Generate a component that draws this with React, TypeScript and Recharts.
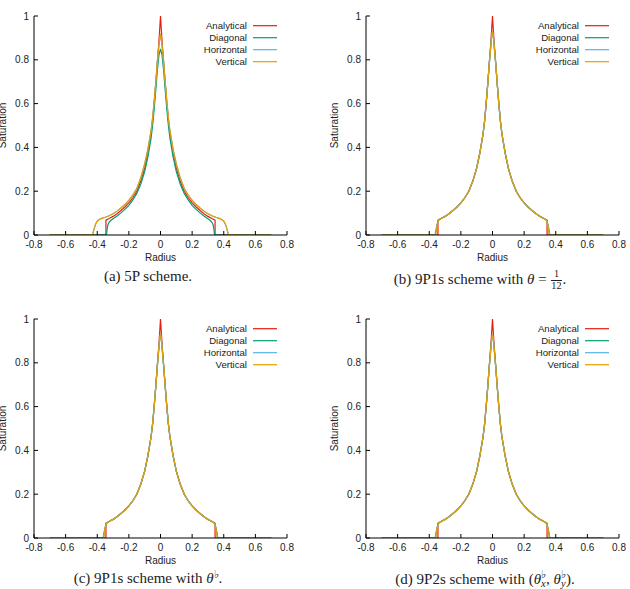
import React from 'react';
import { LineChart, Line, XAxis, YAxis } from 'recharts';

// ---- axes ----
const X_TICKS = [-0.8, -0.6, -0.4, -0.2, 0, 0.2, 0.4, 0.6, 0.8];
const Y_TICKS = [0, 0.2, 0.4, 0.6, 0.8, 1];
const X_DOMAIN: [number, number] = [-0.8, 0.8];
const Y_DOMAIN: [number, number] = [0, 1];

// ---- series ----
const SERIES_NAMES = ['Analytical', 'Diagonal', 'Horizontal', 'Vertical'];
const SERIES_COLORS = ['#e51e10', '#009e73', '#56b4e9', '#e69f00'];
const TAIL_RADIUS = 0.7;

// Half profiles (radius >= 0); the saturation field is radially symmetric.
const ANALYTICAL_R = [0, 0.005, 0.01, 0.02, 0.03, 0.04, 0.05, 0.06, 0.08, 0.1, 0.125, 0.15, 0.175, 0.2, 0.225, 0.25, 0.275, 0.3, 0.325, 0.345, 0.345];
const ANALYTICAL_S = [1, 0.94, 0.885, 0.79, 0.69, 0.6, 0.52, 0.46, 0.375, 0.305, 0.245, 0.2, 0.17, 0.147, 0.128, 0.112, 0.097, 0.085, 0.075, 0.068, 0];

// 5P scheme: diagonal direction lags, axis directions run ahead
const P5_DIAG_R = [0, 0.01, 0.02, 0.03, 0.04, 0.05, 0.06, 0.08, 0.1, 0.125, 0.15, 0.175, 0.2, 0.225, 0.25, 0.275, 0.3, 0.315, 0.325, 0.332, 0.337, 0.342];
const P5_DIAG_S = [0.85, 0.82, 0.75, 0.66, 0.575, 0.5, 0.44, 0.355, 0.29, 0.232, 0.19, 0.16, 0.135, 0.117, 0.101, 0.087, 0.074, 0.066, 0.058, 0.048, 0.03, 0];
const P5_AXIS_R = [0, 0.01, 0.02, 0.03, 0.04, 0.05, 0.06, 0.08, 0.1, 0.125, 0.15, 0.175, 0.2, 0.225, 0.25, 0.275, 0.3, 0.325, 0.35, 0.375, 0.39, 0.4, 0.41, 0.42, 0.43];
const P5_AXIS_S = [0.92, 0.865, 0.785, 0.695, 0.61, 0.535, 0.475, 0.39, 0.325, 0.26, 0.212, 0.182, 0.158, 0.139, 0.123, 0.109, 0.097, 0.088, 0.081, 0.075, 0.07, 0.063, 0.05, 0.028, 0];

// 9-point schemes: all directions nearly coincide
const P9_R = [0, 0.005, 0.01, 0.02, 0.03, 0.04, 0.05, 0.06, 0.08, 0.1, 0.125, 0.15, 0.175, 0.2, 0.225, 0.25, 0.275, 0.3, 0.325, 0.34, 0.35, 0.355, 0.36];
const P9_S = [0.93, 0.91, 0.87, 0.785, 0.69, 0.6, 0.52, 0.46, 0.375, 0.305, 0.245, 0.2, 0.17, 0.147, 0.128, 0.112, 0.097, 0.085, 0.075, 0.068, 0.045, 0.022, 0];
const P9_DIAG_R = [0, 0.005, 0.01, 0.02, 0.03, 0.04, 0.05, 0.06, 0.08, 0.1, 0.125, 0.15, 0.175, 0.2, 0.225, 0.25, 0.275, 0.3, 0.325, 0.34, 0.35, 0.357, 0.363];
const P9_DIAG_S = [0.93, 0.91, 0.87, 0.785, 0.69, 0.6, 0.52, 0.46, 0.375, 0.305, 0.245, 0.2, 0.17, 0.147, 0.128, 0.112, 0.097, 0.085, 0.075, 0.068, 0.05, 0.025, 0];

type Pt = { r: number; s: number };

function profile(rs: number[], ss: number[]): Pt[] {
  const right: Pt[] = rs.map((r, i) => ({ r, s: ss[i] }));
  const left: Pt[] = right.filter((p) => p.r > 0).map((p) => ({ r: -p.r, s: p.s })).reverse();
  return [{ r: -TAIL_RADIUS, s: 0 }, ...left, ...right, { r: TAIL_RADIUS, s: 0 }];
}

const analytical = profile(ANALYTICAL_R, ANALYTICAL_S);

type Panel = {
  left: number;
  top: number;
  captionX: number;
  captionY: number;
  series: Pt[][];
  caption: React.ReactNode;
};

const FONT = '"Liberation Sans", Arial, Helvetica, sans-serif';
const SERIF = '"Liberation Serif", "Times New Roman", serif';
const TEXT = '#222';
const TICK_LEN = 4;

const CHART_W = 300;
const CHART_H = 290;
const Y_AXIS_W = 40;
const MARGIN = { top: 16, right: 7, bottom: 25, left: 0 };
const PLOT_RIGHT = CHART_W - MARGIN.right;

function Frac({ num, den }: { num: string; den: string }) {
  return (
    <span style={{ display: 'inline-block', verticalAlign: 'middle', textAlign: 'center', fontSize: '0.68em', lineHeight: 1.05, margin: '0 1px' }}>
      <span style={{ display: 'block', borderBottom: '0.8px solid #222', padding: '0 1px' }}>{num}</span>
      <span style={{ display: 'block' }}>{den}</span>
    </span>
  );
}

function Theta({ sub }: { sub?: string }) {
  return (
    <>
      <i>θ</i>
      <span
        style={{
          display: 'inline-block',
          verticalAlign: sub ? '-0.3em' : '0.45em',
          lineHeight: '0.85em',
          fontSize: '0.7em',
          textAlign: 'left',
        }}
      >
        ♭
        {sub ? (
          <>
            <br />
            <i>{sub}</i>
          </>
        ) : null}
      </span>
    </>
  );
}

const PANELS: Panel[] = [
  {
    left: -6,
    top: 0,
    captionX: 148,
    captionY: 269,
    series: [analytical, profile(P5_DIAG_R, P5_DIAG_S), profile(P5_AXIS_R, P5_AXIS_S), profile(P5_AXIS_R, P5_AXIS_S)],
    caption: <>(a) 5P scheme.</>,
  },
  {
    left: 326,
    top: 0,
    captionX: 480,
    captionY: 269,
    series: [analytical, profile(P9_DIAG_R, P9_DIAG_S), profile(P9_R, P9_S), profile(P9_R, P9_S)],
    caption: (
      <>
        (b) 9P1s scheme with <i>θ</i> = <Frac num="1" den="12" />.
      </>
    ),
  },
  {
    left: -6,
    top: 303,
    captionX: 148,
    captionY: 571,
    series: [analytical, profile(P9_DIAG_R, P9_DIAG_S), profile(P9_R, P9_S), profile(P9_R, P9_S)],
    caption: (
      <>
        (c) 9P1s scheme with <Theta />.
      </>
    ),
  },
  {
    left: 326,
    top: 303,
    captionX: 485,
    captionY: 571,
    series: [analytical, profile(P9_DIAG_R, P9_DIAG_S), profile(P9_R, P9_S), profile(P9_R, P9_S)],
    caption: (
      <>
        (d) 9P2s scheme with (<Theta sub="x" />, <Theta sub="y" />).
      </>
    ),
  },
];

const fmt = (v: number) => String(v);

function BottomTick(props: any) {
  const { x, y, payload } = props;
  return (
    <g>
      <line x1={x} x2={x} y1={y} y2={y - TICK_LEN} stroke="#000" />
      <text x={x} y={y + 12.5} textAnchor="middle" fontSize={10} fontFamily={FONT} fill={TEXT}>
        {fmt(payload.value)}
      </text>
    </g>
  );
}

function TopTick(props: any) {
  const { x, y } = props;
  return <line x1={x} x2={x} y1={y} y2={y + TICK_LEN} stroke="#000" />;
}

function LeftTick(props: any) {
  const { x, y, payload } = props;
  return (
    <g>
      <line x1={x} x2={x + TICK_LEN} y1={y} y2={y} stroke="#000" />
      <text x={x - 5} y={y + 3.5} textAnchor="end" fontSize={10} fontFamily={FONT} fill={TEXT}>
        {fmt(payload.value)}
      </text>
    </g>
  );
}

function RightTick(props: any) {
  const { x, y } = props;
  return <line x1={x} x2={x - TICK_LEN} y1={y} y2={y} stroke="#000" />;
}

function KeyBox() {
  return (
    <svg width={CHART_W} height={80} style={{ position: 'absolute', left: 0, top: 0, pointerEvents: 'none' }}>
      {SERIES_NAMES.map((name, i) => {
        const cy = MARGIN.top + 9.7 + 12 * i;
        return (
          <g key={name}>
            <text x={PLOT_RIGHT - 40} y={cy + 3.5} textAnchor="end" fontSize={9.6} fontFamily={FONT} fill={TEXT}>
              {name}
            </text>
            <line x1={PLOT_RIGHT - 34} x2={PLOT_RIGHT - 10} y1={cy} y2={cy} stroke={SERIES_COLORS[i]} strokeWidth={1.2} />
          </g>
        );
      })}
    </svg>
  );
}

function SaturationPanel({ panel }: { panel: Panel }) {
  return (
    <div style={{ position: 'absolute', left: panel.left, top: panel.top, width: CHART_W, height: CHART_H }}>
      <LineChart width={CHART_W} height={CHART_H} margin={MARGIN}>
        <XAxis
          xAxisId="bottom"
          dataKey="r"
          type="number"
          domain={X_DOMAIN}
          ticks={X_TICKS}
          interval={0}
          allowDataOverflow
          height={30}
          tickSize={0}
          tickMargin={0}
          tickLine={false}
          axisLine={{ stroke: '#000' }}
          tick={BottomTick}
          label={{ value: 'Radius', position: 'insideBottom', offset: 4, fontSize: 10, fontFamily: FONT, fill: TEXT }}
        />
        <XAxis
          xAxisId="top"
          orientation="top"
          dataKey="r"
          type="number"
          domain={X_DOMAIN}
          ticks={X_TICKS}
          interval={0}
          allowDataOverflow
          height={0}
          tickSize={0}
          tickMargin={0}
          tickLine={false}
          axisLine={{ stroke: '#000' }}
          tick={TopTick}
        />
        <YAxis
          yAxisId="left"
          type="number"
          domain={Y_DOMAIN}
          ticks={Y_TICKS}
          interval={0}
          allowDataOverflow
          width={Y_AXIS_W}
          tickSize={0}
          tickMargin={0}
          tickLine={false}
          axisLine={{ stroke: '#000' }}
          tick={LeftTick}
          label={{
            value: 'Saturation',
            angle: -90,
            position: 'insideLeft',
            offset: 8,
            fontSize: 10,
            fontFamily: FONT,
            fill: TEXT,
            style: { textAnchor: 'middle' },
          }}
        />
        <YAxis
          yAxisId="right"
          orientation="right"
          type="number"
          domain={Y_DOMAIN}
          ticks={Y_TICKS}
          interval={0}
          allowDataOverflow
          width={0}
          tickSize={0}
          tickMargin={0}
          tickLine={false}
          axisLine={{ stroke: '#000' }}
          tick={RightTick}
        />
        {panel.series.map((pts, i) => (
          <Line
            key={SERIES_NAMES[i]}
            xAxisId="bottom"
            yAxisId="left"
            data={pts}
            dataKey="s"
            name={SERIES_NAMES[i]}
            type="linear"
            stroke={SERIES_COLORS[i]}
            strokeWidth={1.2}
            dot={false}
            activeDot={false}
            isAnimationActive={false}
          />
        ))}
      </LineChart>
      <KeyBox />
    </div>
  );
}

export default function App() {
  return (
    <div style={{ position: 'absolute', left: 0, top: 0, width: 630, height: 589, background: '#fff', overflow: 'hidden' }}>
      {PANELS.map((p, i) => (
        <SaturationPanel key={i} panel={p} />
      ))}
      {PANELS.map((p, i) => (
        <div
          key={'cap' + i}
          style={{
            position: 'absolute',
            left: p.captionX - 200,
            top: p.captionY,
            width: 400,
            textAlign: 'center',
            fontFamily: SERIF,
            fontSize: 15,
            lineHeight: '15px',
            color: TEXT,
            whiteSpace: 'nowrap',
          }}
        >
          {p.caption}
        </div>
      ))}
    </div>
  );
}
